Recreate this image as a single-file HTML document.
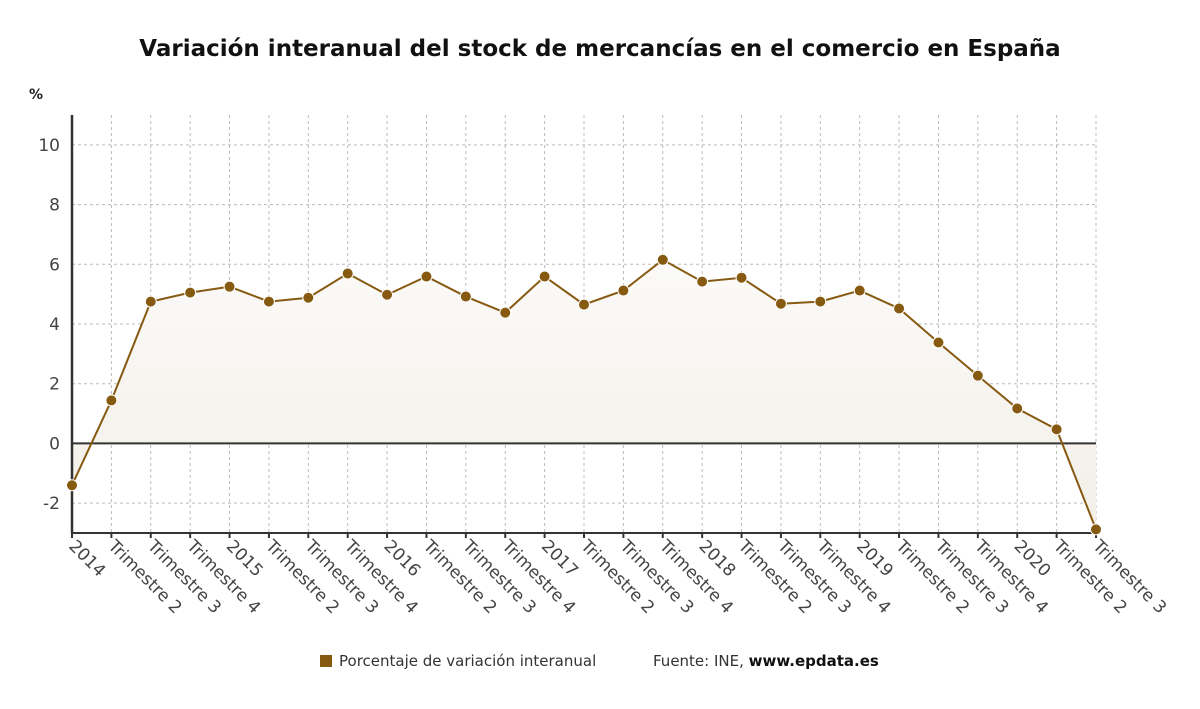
<!DOCTYPE html>
<html><head><meta charset="utf-8">
<style>
body{margin:0;background:#fff;width:1200px;height:705px;overflow:hidden;font-family:"DejaVu Sans","Liberation Sans",sans-serif;}
</style></head>
<body>
<svg id="c" width="1200" height="705" xmlns="http://www.w3.org/2000/svg">
<defs><linearGradient id="g" x1="0" y1="0" x2="0" y2="1"><stop offset="0" stop-color="#fbfaf8"/><stop offset="1" stop-color="#f3efe8"/></linearGradient></defs>
<text x="600" y="56" text-anchor="middle" font-size="23" font-weight="bold" fill="#111">Variación interanual del stock de mercancías en el comercio en España</text>
<text x="29" y="99" font-size="14" font-weight="bold" fill="#222">%</text>
<g id="plot"></g>
<g>
<rect x="320" y="655" width="12" height="12" fill="#875a12"/>
<text x="339" y="666" font-size="15" fill="#333">Porcentaje de variación interanual</text>
<text x="653" y="666" font-size="15" fill="#333">Fuente: INE, <tspan font-weight="bold" fill="#111">www.epdata.es</tspan></text>
</g>
</svg>
<script>
const categories=["2014","Trimestre 2","Trimestre 3","Trimestre 4","2015","Trimestre 2","Trimestre 3","Trimestre 4","2016","Trimestre 2","Trimestre 3","Trimestre 4","2017","Trimestre 2","Trimestre 3","Trimestre 4","2018","Trimestre 2","Trimestre 3","Trimestre 4","2019","Trimestre 2","Trimestre 3","Trimestre 4","2020","Trimestre 2","Trimestre 3"];
const values=[-1.4,1.44,4.75,5.05,5.25,4.75,4.88,5.69,4.98,5.59,4.92,4.38,5.59,4.65,5.12,6.15,5.42,5.55,4.68,4.75,5.12,4.52,3.38,2.27,1.17,0.47,-2.88];
const yTicks=[-2,0,2,4,6,8,10];
const yMin=-3,yMax=11;
const L=72,R=1096,T=115,B=533;
const x=i=>L+(R-L)*i/(categories.length-1);
const y=v=>B-(v-yMin)/(yMax-yMin)*(B-T);
const NS="http://www.w3.org/2000/svg";
const P=document.getElementById('plot');
function mk(t,a){const e=document.createElementNS(NS,t);for(const k in a)e.setAttribute(k,a[k]);P.appendChild(e);return e;}
yTicks.forEach(v=>{
 const l=mk('line',{x1:L,x2:R,y1:y(v),y2:y(v),stroke:'#bbb','stroke-dasharray':'3,3'});
 
 
 const t=mk('text',{x:L-12,y:y(v)+6,'text-anchor':'end','font-size':17,fill:'#444'});
 t.textContent=v;
 
 
});
categories.forEach((c,i)=>{
 const l=mk('line',{x1:x(i),x2:x(i),y1:T,y2:B,stroke:'#bbb','stroke-dasharray':'3,3'});
 
 
 const k=mk('line',{x1:x(i),x2:x(i),y1:B,y2:B+5,stroke:'#333','stroke-width':2});
 
 
 const t=mk('text',{x:x(i)-4,y:B+14,'font-size':17,fill:'#444',transform:`rotate(45 ${x(i)-4} ${B+14})`});
 t.textContent=c;
 
 
});
let d=`M${x(0)},${y(0)}`;values.forEach((v,i)=>d+=` L${x(i)},${y(v)}`);d+=` L${x(values.length-1)},${y(0)} Z`;
const a=mk('path',{d:d,fill:'url(#g)'});


const z=mk('line',{x1:L,x2:R,y1:y(0),y2:y(0),stroke:'#333','stroke-width':2});


const ax=mk('line',{x1:L,x2:L,y1:T,y2:B,stroke:'#333','stroke-width':2.5});


const bx=mk('line',{x1:L,x2:R,y1:B,y2:B,stroke:'#333','stroke-width':2});


const ln=mk('polyline',{points:values.map((v,i)=>x(i)+','+y(v)).join(' '),fill:'none',stroke:'#875a12','stroke-width':2});


values.forEach((v,i)=>{
 const p=mk('circle',{cx:x(i),cy:y(v),r:5.5,fill:'#875a12',stroke:'#fff','stroke-width':1});
 
 
});
</script>
</body></html>
